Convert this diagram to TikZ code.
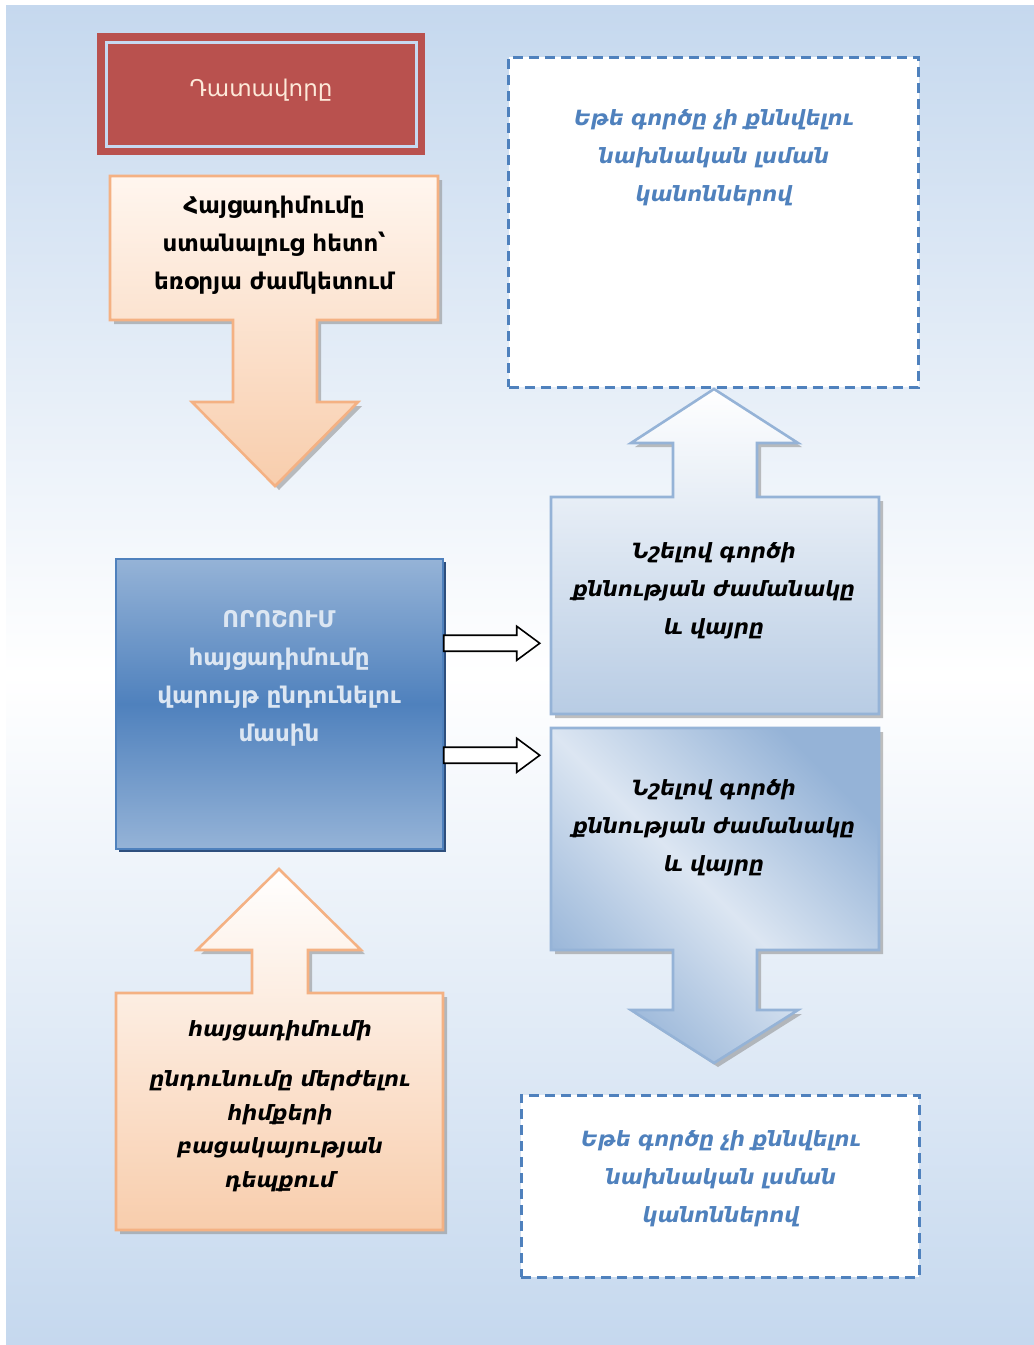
\documentclass[tikz,border=0pt]{standalone}
\usepackage{fontspec}
\setmainfont{DejaVu Sans}
\usetikzlibrary{calc}

\definecolor{pagebg}{HTML}{C5D8EE}
\definecolor{judgered}{HTML}{B9514E}
\definecolor{judgeline}{HTML}{C6D9F1}
\definecolor{judgetext}{HTML}{FDE9D9}
\definecolor{peachline}{HTML}{F4B183}
\definecolor{peachtop}{HTML}{FFF6EF}
\definecolor{peachbot}{HTML}{F8CDAC}
\definecolor{skyline}{HTML}{95B3D7}
\definecolor{skylight}{HTML}{DCE6F2}
\definecolor{skymid}{HTML}{B8CCE4}
\definecolor{steel}{HTML}{4F81BD}
\definecolor{steeldark}{HTML}{2E4F7D}
\definecolor{steeltext}{HTML}{DCE6F2}
\definecolor{shadowgray}{HTML}{8C8C8C}

\tikzset{
  plaintext/.style={align=center, inner sep=0pt, text=black, font=\fontsize{23}{38}\selectfont},
  boldtext/.style={plaintext, font=\fontsize{23}{38}\selectfont\bfseries},
  slanttext/.style={plaintext, font=\fontsize{21}{38}\selectfont\bfseries\itshape},
  outbox/.style={draw=steel, line width=3pt, dash pattern=on 10pt off 6pt, fill=white, inner sep=0pt},
  shapeshadow/.style={fill=shadowgray, fill opacity=0.55, draw=none},
  peachshape/.style={draw=peachline, line width=2.6pt, line join=miter},
  skyshape/.style={draw=skyline, line width=2.6pt, line join=miter},
  blockarrow/.style={draw=black, line width=1.6pt, fill=white, line join=miter},
}

\begin{document}
\begin{tikzpicture}[x=1pt, y=-1pt]
\useasboundingbox (0,0) rectangle (1034,1345);

% page background
\shade[top color=pagebg, bottom color=pagebg, middle color=white]
  (6,5) rectangle (1034,1345);

% judge box with its inner frame
\node[fill=judgered, minimum width=328pt, minimum height=122pt, inner sep=0pt] (judge) at (261,94) {};
\draw[judgeline, line width=3pt] ($(judge.north west)+(10,10)$) rectangle ($(judge.south east)+(-9,-9)$);
\node[plaintext, text=judgetext] (judgetext) at (261,90) {Դատավորը};

% callout with downward arrow (top left)
\def\calloutA{(110,176) -- (438,176) -- (438,320) -- (317,320) -- (317,402) -- (358,402)
  -- (275,486) -- (192,402) -- (233,402) -- (233,320) -- (110,320) -- cycle}
\fill[shapeshadow, shift={(4pt,-4pt)}] \calloutA;
\shade[top color=peachtop, bottom color=peachbot] \calloutA;
\draw[peachshape] \calloutA;
\node[boldtext] (receive) at (274,245) {Հայցադիմումը\\ստանալուց հետո՝\\եռօրյա ժամկետում};

% upper dashed outcome box
\node[outbox, minimum width=410pt, minimum height=330pt] (outA) at (713.5,222) {};
\node[slanttext, text=steel] (outAtext) at (714,158) {Եթե գործը չի քննվելու\\նախնական լսման\\կանոններով};

% decision box
\fill[steeldark] (119,562) rectangle (446,852);
\node[draw=steel, line width=1.5pt, minimum width=327pt, minimum height=290pt, inner sep=0pt,
      top color=skyline, bottom color=skyline, middle color=steel] (decision) at (279.5,704) {};
\node[boldtext, text=steeltext] (decisiontext) at (279,678)
  {ՈՐՈՇՈՒՄ\\հայցադիմումը\\վարույթ ընդունելու\\մասին};

% callout with upward arrow (right, upper)
\def\calloutB{(551,497) -- (673,497) -- (673,443) -- (631,443) -- (714,389) -- (798,443)
  -- (757,443) -- (757,497) -- (879,497) -- (879,714) -- (551,714) -- cycle}
\fill[shapeshadow, shift={(4pt,-4pt)}] \calloutB;
\shade[top color=white, bottom color=skymid] \calloutB;
\draw[skyshape] \calloutB;
\node[slanttext] (scheduleA) at (714,591) {Նշելով գործի\\քննության ժամանակը\\և վայրը};

% callout with downward arrow (right, lower)
\def\calloutC{(551,728) -- (879,728) -- (879,950) -- (757,950) -- (757,1010) -- (798,1010)
  -- (714,1063) -- (631,1010) -- (673,1010) -- (673,950) -- (551,950) -- cycle}
\fill[shapeshadow, shift={(4pt,-4pt)}] \calloutC;
\shade[top color=skyline, bottom color=skyline, middle color=skylight, shading angle=-45] \calloutC;
\draw[skyshape] \calloutC;
\node[slanttext] (scheduleB) at (714,828) {Նշելով գործի\\քննության ժամանակը\\և վայրը};

% lower dashed outcome box
\node[outbox, minimum width=398pt, minimum height=182pt] (outB) at (720,1186) {};
\node[slanttext, text=steel] (outBtext) at (721,1179) {Եթե գործը չի քննվելու\\նախնական լսման\\կանոններով};

% callout with upward arrow (bottom left)
\def\calloutD{(116,993) -- (252,993) -- (252,950) -- (197,950) -- (279,869) -- (361,950)
  -- (308,950) -- (308,993) -- (443,993) -- (443,1230) -- (116,1230) -- cycle}
\fill[shapeshadow, shift={(4pt,-4pt)}] \calloutD;
\shade[top color=white, bottom color=peachbot] \calloutD;
\draw[peachshape] \calloutD;
\node[slanttext] (rejectA) at (280,1031) {հայցադիմումի};
\node[slanttext, font=\fontsize{21}{33.5}\selectfont\bfseries\itshape] (rejectB) at (280,1131)
  {ընդունումը մերժելու\\հիմքերի\\բացակայության\\դեպքում};

% block arrows from the decision box
\coordinate (d1) at ($(decision.north east)+(0,85)$);
\coordinate (d2) at ($(decision.north east)+(0,197)$);
\foreach \d in {d1,d2}{
  \draw[blockarrow] ($(\d)+(0,-8)$) -- ($(\d)+(73,-8)$) -- ($(\d)+(73,-17)$) -- ($(\d)+(96,0)$)
    -- ($(\d)+(73,17)$) -- ($(\d)+(73,8)$) -- ($(\d)+(0,8)$) -- cycle;
}
\end{tikzpicture}
\end{document}
